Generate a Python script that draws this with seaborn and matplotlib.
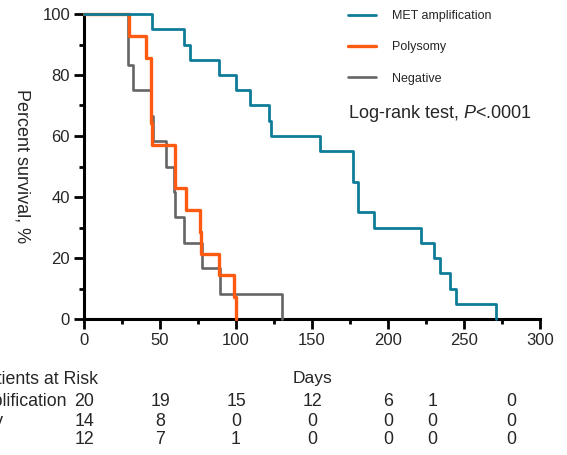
import matplotlib
matplotlib.use("Agg")
import matplotlib.pyplot as plt
import matplotlib.transforms as mtransforms
from matplotlib.lines import Line2D
from matplotlib.ticker import MultipleLocator
import seaborn as sns
import pandas as pd

# === Data ===
groups = ["MET amplification", "Polysomy", "Negative"]

met_days = [0, 44.5, 66, 70, 89, 100, 109, 122, 123, 155, 177, 180, 191, 222, 230, 234, 241, 245, 271]
met_surv = [100, 95, 90, 85, 80, 75, 70, 65, 60, 55, 45, 35, 30, 25, 20, 15, 10, 5, 0]

poly_days = [0, 29.6, 41, 44, 45, 60, 67, 76, 77, 89, 99, 100]
poly_surv = [100, 92.9, 85.7, 64.3, 57.1, 42.9, 35.7, 28.6, 21.4, 14.3, 7.1, 0]

neg_days = [0, 29, 32.5, 44, 45.5, 54, 59, 60, 66, 77.5, 89.5, 130]
neg_surv = [100, 83.3, 75, 66.7, 58.3, 50, 41.7, 33.3, 25, 16.7, 8.3, 0]

risk_days = [0, 50, 100, 150, 200, 229, 281]
met_risk = [20, 19, 15, 12, 6, 1, 0]
poly_risk = [14, 8, 0, 0, 0, 0, 0]
neg_risk = [12, 7, 1, 0, 0, 0, 0]

colors = {"MET amplification": "#0E7C98", "Polysomy": "#FF5A12", "Negative": "#656565"}
widths = {"MET amplification": 2.0, "Polysomy": 2.4, "Negative": 1.9}

curves = {
    "MET amplification": (met_days, met_surv),
    "Polysomy": (poly_days, poly_surv),
    "Negative": (neg_days, neg_surv),
}
risk = {"MET amplification": met_risk, "Polysomy": poly_risk, "Negative": neg_risk}

# === Style ===
sns.set_style("ticks")
plt.rcParams["font.family"] = ["Liberation Sans", "DejaVu Sans"]
plt.rcParams["mathtext.fontset"] = "custom"
plt.rcParams["mathtext.rm"] = "Liberation Sans"
plt.rcParams["mathtext.it"] = "Liberation Sans:italic"

W, H = 567, 455
fig = plt.figure(figsize=(W / 100, H / 100), dpi=100)
ax = fig.add_axes([84 / W, 1 - 319 / H, (540 - 84) / W, (319 - 14) / H])

# === Curves (drawn back to front) ===
for g in ["Negative", "Polysomy", "MET amplification"]:
    d, s = curves[g]
    df = pd.DataFrame({"days": d, "surv": s})
    sns.lineplot(data=df, x="days", y="surv", drawstyle="steps-post",
                 estimator=None, sort=False, color=colors[g], lw=widths[g],
                 ax=ax, legend=False, clip_on=False, zorder=3)

# === Axes ===
ax.set_xlim(0, 300)
ax.set_ylim(0, 100)
ax.xaxis.set_major_locator(MultipleLocator(50))
ax.xaxis.set_minor_locator(MultipleLocator(25))
ax.yaxis.set_major_locator(MultipleLocator(20))
ax.yaxis.set_minor_locator(MultipleLocator(10))
for side in ["top", "right"]:
    ax.spines[side].set_visible(False)
for side in ["left", "bottom"]:
    ax.spines[side].set_linewidth(2.2)
    ax.spines[side].set_color("black")
ax.tick_params(which="major", length=7, width=2, color="black", labelsize=12, pad=3)
ax.tick_params(which="minor", length=3.5, width=2, color="black")
ax.set_xlabel("")
ax.set_ylabel("Percent survival, %", fontsize=13, rotation=270, va="center", ha="center")
ax.yaxis.set_label_coords(-0.136, 0.5)

# === Legend ===
handles = [Line2D([], [], color=colors[g], lw=widths[g]) for g in groups]
ax.legend(handles, groups, loc="upper left", bbox_to_anchor=(348 / W, 1 - 10 / H),
          bbox_transform=fig.transFigure, frameon=False, fontsize=9,
          handlelength=2.2, handletextpad=1.3, labelspacing=1.55,
          borderpad=0, borderaxespad=0)

fig.text(348 / W, 1 - 113 / H, "Log-rank test, $\\mathit{P}$<.0001", fontsize=13,
         ha="left", va="center")

# === Patients at risk table (left edge runs off the canvas, as in the source) ===
trans = mtransforms.blended_transform_factory(ax.transData, fig.transFigure)
fig.text(98 / W, 1 - 379 / H, "Patients at Risk", fontsize=12.8, ha="right", va="center")
ax.text(150, 1 - 379 / H, "Days", fontsize=12.5, ha="center", va="center", transform=trans)
row_y = [402, 421, 440]
for g, y in zip(groups, row_y):
    fig.text(-74 / W, 1 - y / H, g, fontsize=12.8, ha="left", va="center")
    for d, n in zip(risk_days, risk[g]):
        ax.text(d, 1 - y / H, str(n), fontsize=12.8, ha="center", va="center",
                transform=trans)

fig.savefig("out.png", dpi=100)
